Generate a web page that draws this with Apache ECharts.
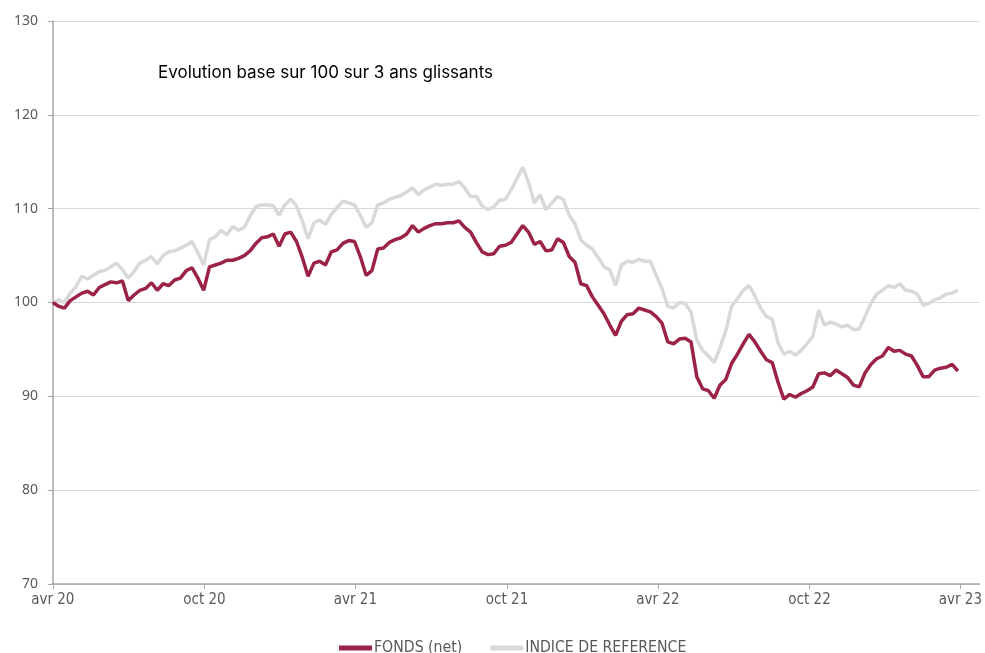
<!DOCTYPE html>
<html>
<head>
<meta charset="utf-8">
<script src="https://cdn.jsdelivr.net/npm/echarts@6/dist/echarts.min.js"></script>
<style>
html,body{margin:0;padding:0;background:#fff;}
#chart{width:985px;height:653px;}
</style>
</head>
<body>
<div id="chart"></div>
<script>
// Weekly observations starting 2020-04-01
const startDate = '2020-04-01';
const stepDays = 7;

const fondsValues = [
100.0,99.6,99.4,100.2,100.6,101.0,101.2,100.8,101.6,101.9,
102.2,102.1,102.3,100.2,100.8,101.3,101.5,102.1,101.3,102.0,
101.8,102.4,102.6,103.4,103.7,102.6,101.3,103.8,104.0,104.2,
104.5,104.5,104.7,105.0,105.5,106.3,106.9,107.0,107.3,106.0,
107.3,107.5,106.5,104.8,102.8,104.2,104.4,104.0,105.4,105.6,
106.3,106.6,106.5,104.9,102.9,103.4,105.7,105.8,106.4,106.7,
106.9,107.3,108.2,107.5,107.9,108.2,108.4,108.4,108.5,108.5,
108.7,108.0,107.5,106.4,105.4,105.1,105.2,106.0,106.1,106.4,
107.3,108.2,107.5,106.2,106.5,105.5,105.6,106.8,106.4,104.9,
104.3,102.0,101.8,100.6,99.7,98.8,97.6,96.5,98.0,98.7,
98.8,99.4,99.2,99.0,98.5,97.8,95.8,95.6,96.1,96.2,
95.8,92.1,90.8,90.6,89.8,91.2,91.8,93.5,94.5,95.6,
96.6,95.8,94.8,93.9,93.6,91.5,89.7,90.2,89.9,90.3,
90.6,91.0,92.4,92.5,92.2,92.8,92.4,92.0,91.2,91.0,
92.5,93.4,94.0,94.3,95.2,94.8,94.9,94.5,94.3,93.3,
92.1,92.1,92.8,93.0,93.1,93.4,92.7
];

const indiceValues = [
100.0,100.3,100.0,101.0,101.7,102.8,102.5,102.9,103.3,103.4,
103.8,104.2,103.5,102.6,103.3,104.2,104.5,104.9,104.1,105.0,
105.4,105.5,105.8,106.1,106.5,105.3,104.0,106.7,107.0,107.7,
107.2,108.1,107.7,108.0,109.2,110.2,110.4,110.4,110.3,109.3,
110.4,111.0,110.3,108.7,106.8,108.5,108.8,108.3,109.4,110.1,
110.8,110.6,110.4,109.3,108.0,108.5,110.4,110.6,111.0,111.2,
111.4,111.8,112.2,111.5,112.0,112.3,112.6,112.5,112.6,112.6,
112.9,112.2,111.3,111.3,110.3,109.9,110.2,110.9,111.0,112.0,
113.2,114.4,112.8,110.6,111.5,109.9,110.6,111.3,111.0,109.3,
108.4,106.7,106.1,105.7,104.8,103.8,103.5,101.8,104.0,104.4,
104.3,104.6,104.4,104.4,102.9,101.5,99.6,99.4,100.0,99.9,
99.0,96.0,94.9,94.3,93.6,95.2,97.0,99.6,100.4,101.3,
101.8,100.7,99.4,98.5,98.2,95.7,94.5,94.8,94.4,94.9,
95.6,96.4,99.2,97.6,97.9,97.7,97.4,97.6,97.1,97.2,
98.5,99.9,100.9,101.3,101.8,101.6,102.0,101.3,101.2,100.9,
99.7,99.9,100.3,100.5,100.9,101.0,101.3
];

const tickDates = ['2020-04-01','2020-10-01','2021-04-01','2021-10-01','2022-04-01','2022-10-01','2023-04-01'];
const tickLabels = ['avr 20','oct 20','avr 21','oct 21','avr 22','oct 22','avr 23'];
const seriesNames = ['FONDS (net)','INDICE DE REFERENCE'];
const chartTitle = 'Evolution base sur 100 sur 3 ans glissants';

function toDay(s){
  const p = s.split('-').map(Number);
  const t0 = startDate.split('-').map(Number);
  return Math.round((Date.UTC(p[0],p[1]-1,p[2]) - Date.UTC(t0[0],t0[1]-1,t0[2]))/86400000);
}
const tickDays = tickDates.map(toDay);
const fondsData = fondsValues.map((v,i)=>[i*stepDays, v]);
const indiceData = indiceValues.map((v,i)=>[i*stepDays, v]);

const narrow = '"Liberation Sans Narrow","DejaVu Sans Condensed",sans-serif';
const chart = echarts.init(document.getElementById('chart'));
chart.setOption({
  animation:false,
  backgroundColor:'#ffffff',
  title:{
    text: chartTitle,
    left:153, top:59,
    textStyle:{fontFamily:'Inter, "Noto Sans", sans-serif', fontSize:17, fontWeight:'normal', color:'#000'}
  },
  legend:{
    data: seriesNames,
    left:334, top:635,
    icon:'rect', itemWidth:33, itemHeight:5, itemGap:28,
    textStyle:{fontFamily:narrow, fontSize:15.7, color:'#595959', padding:[0,0,0,-3]}
  },
  grid:{left:52, right:0, top:21, bottom:69, containLabel:false},
  xAxis:{
    type:'value',
    min:-1, max:1118,
    axisLine:{show:true, lineStyle:{color:'#a6a6a6', width:1.5}},
    axisTick:{show:true, customValues: tickDays, length:5, lineStyle:{color:'#a6a6a6'}},
    axisLabel:{
      customValues: tickDays,
      margin:9,
      fontFamily:narrow,
      fontSize:15, color:'#595959',
      formatter:(v)=>{const i=tickDays.indexOf(Math.round(v)); return i>=0?tickLabels[i]:'';}
    },
    splitLine:{show:false}
  },
  yAxis:{
    type:'value',
    min:70, max:130, interval:10,
    axisLine:{show:true, lineStyle:{color:'#a6a6a6', width:1.5}},
    axisTick:{show:true, length:5, lineStyle:{color:'#a6a6a6'}},
    axisLabel:{margin:14, fontFamily:'"Noto Sans", sans-serif', fontSize:14, color:'#595959'},
    splitLine:{show:true, lineStyle:{color:'#d9d9d9', width:1}}
  },
  series:[
    {name:seriesNames[0], type:'line', data:fondsData, showSymbol:false, z:3,
     itemStyle:{color:'#9b2345'}, lineStyle:{color:'#9b2345', width:3.5}},
    {name:seriesNames[1], type:'line', data:indiceData, showSymbol:false, z:2,
     itemStyle:{color:'#d9d9d9'}, lineStyle:{color:'#d9d9d9', width:3.5}}
  ]
});
</script>
</body>
</html>
